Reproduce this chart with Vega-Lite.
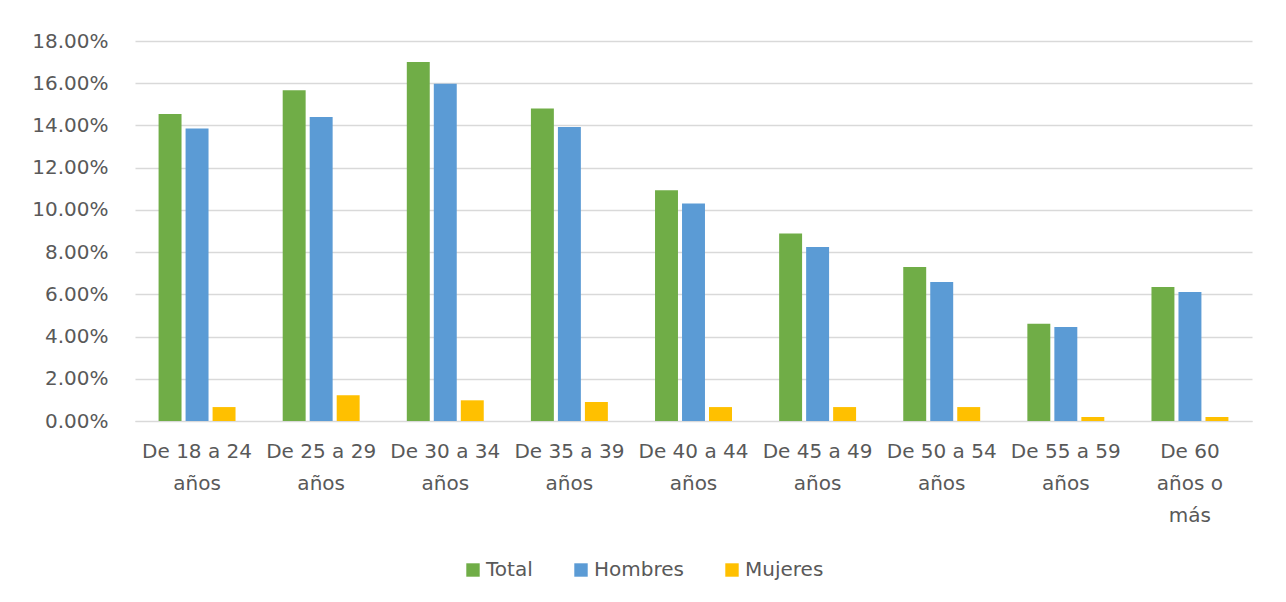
{
  "$schema": "https://vega.github.io/schema/vega-lite/v6.json",
  "width": 1117,
  "height": 380,
  "autosize": {"type": "none"},
  "padding": {"left": 135, "top": 41, "right": 34, "bottom": 181},
  "background": "white",
  "config": {
    "view": {"stroke": null},
    "font": "DejaVu Sans"
  },
  "data": {
    "values": [
      {"edad": "De 18 a 24 años", "serie": "Total", "valor": 0.1454},
      {"edad": "De 18 a 24 años", "serie": "Hombres", "valor": 0.1385},
      {"edad": "De 18 a 24 años", "serie": "Mujeres", "valor": 0.0066},
      {"edad": "De 25 a 29 años", "serie": "Total", "valor": 0.1567},
      {"edad": "De 25 a 29 años", "serie": "Hombres", "valor": 0.1440},
      {"edad": "De 25 a 29 años", "serie": "Mujeres", "valor": 0.0122},
      {"edad": "De 30 a 34 años", "serie": "Total", "valor": 0.1700},
      {"edad": "De 30 a 34 años", "serie": "Hombres", "valor": 0.1598},
      {"edad": "De 30 a 34 años", "serie": "Mujeres", "valor": 0.0098},
      {"edad": "De 35 a 39 años", "serie": "Total", "valor": 0.1480},
      {"edad": "De 35 a 39 años", "serie": "Hombres", "valor": 0.1393},
      {"edad": "De 35 a 39 años", "serie": "Mujeres", "valor": 0.0090},
      {"edad": "De 40 a 44 años", "serie": "Total", "valor": 0.1093},
      {"edad": "De 40 a 44 años", "serie": "Hombres", "valor": 0.1030},
      {"edad": "De 40 a 44 años", "serie": "Mujeres", "valor": 0.0066},
      {"edad": "De 45 a 49 años", "serie": "Total", "valor": 0.0888},
      {"edad": "De 45 a 49 años", "serie": "Hombres", "valor": 0.0824},
      {"edad": "De 45 a 49 años", "serie": "Mujeres", "valor": 0.0066},
      {"edad": "De 50 a 54 años", "serie": "Total", "valor": 0.0730},
      {"edad": "De 50 a 54 años", "serie": "Hombres", "valor": 0.0658},
      {"edad": "De 50 a 54 años", "serie": "Mujeres", "valor": 0.0066},
      {"edad": "De 55 a 59 años", "serie": "Total", "valor": 0.0461},
      {"edad": "De 55 a 59 años", "serie": "Hombres", "valor": 0.0445},
      {"edad": "De 55 a 59 años", "serie": "Mujeres", "valor": 0.0019},
      {"edad": "De 60 años o más", "serie": "Total", "valor": 0.0635},
      {"edad": "De 60 años o más", "serie": "Hombres", "valor": 0.0611},
      {"edad": "De 60 años o más", "serie": "Mujeres", "valor": 0.0019}
    ]
  },
  "mark": {"type": "bar"},
  "encoding": {
    "x": {
      "field": "edad",
      "type": "nominal",
      "sort": null,
      "scale": {"paddingInner": 0.38, "paddingOuter": 0.19},
      "axis": {
        "title": null,
        "labelAngle": 0,
        "ticks": false,
        "domain": true,
        "domainColor": "#D9D9D9",
        "domainWidth": 1,
        "labelFontSize": 20,
        "labelColor": "#595959",
        "labelPadding": 20,
        "labelLineHeight": 32,
        "labelLimit": 200,
        "labelExpr": "datum.label == 'De 60 años o más' ? ['De 60', 'años o', 'más'] : [slice(datum.label, 0, 10), 'años']"
      }
    },
    "xOffset": {
      "field": "serie",
      "type": "nominal",
      "sort": ["Total", "Hombres", "Mujeres"],
      "scale": {"paddingInner": 0.15, "paddingOuter": 0}
    },
    "y": {
      "field": "valor",
      "type": "quantitative",
      "scale": {"domain": [0, 0.18], "nice": false},
      "axis": {
        "title": null,
        "values": [0, 0.02, 0.04, 0.06, 0.08, 0.1, 0.12, 0.14, 0.16, 0.18],
        "format": ".2%",
        "ticks": false,
        "domain": false,
        "grid": true,
        "gridColor": "#D9D9D9",
        "gridWidth": 1.3,
        "labelFontSize": 20,
        "labelColor": "#595959",
        "labelPadding": 27
      }
    },
    "color": {
      "field": "serie",
      "type": "nominal",
      "sort": ["Total", "Hombres", "Mujeres"],
      "scale": {
        "domain": ["Total", "Hombres", "Mujeres"],
        "range": ["#70AD47", "#5B9BD5", "#FFC000"]
      },
      "legend": {
        "title": null,
        "orient": "none",
        "direction": "horizontal",
        "legendX": 328,
        "legendY": 519,
        "symbolType": "square",
        "symbolSize": 180,
        "symbolStrokeWidth": 0,
        "labelFontSize": 20,
        "labelColor": "#595959",
        "labelOffset": 3,
        "columnPadding": 38
      }
    }
  }
}
